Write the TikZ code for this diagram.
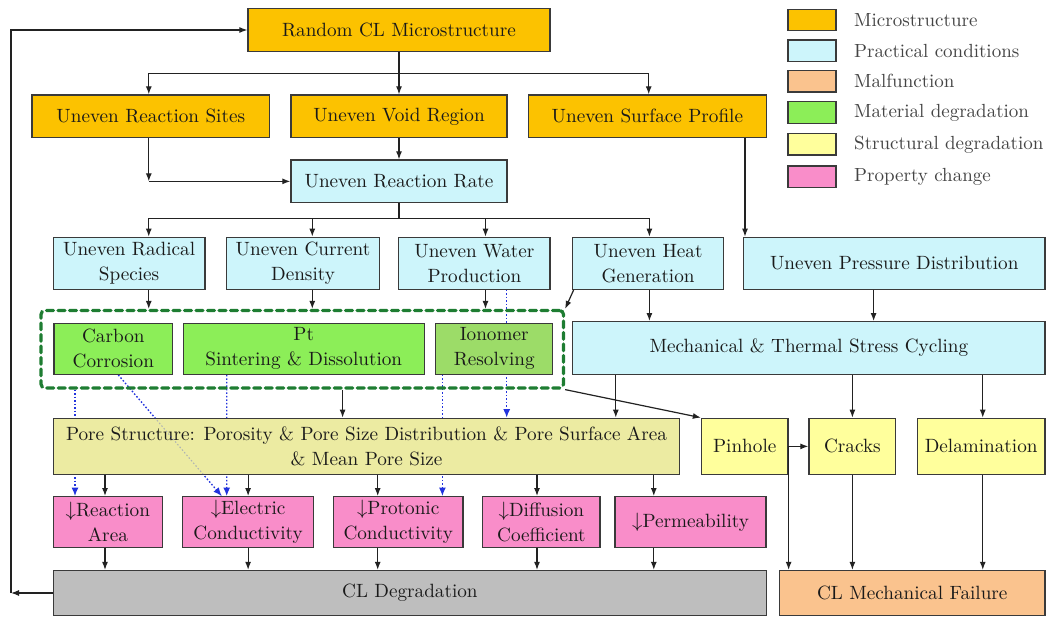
\documentclass[tikz,border=0pt]{standalone}
\usepackage{fontspec}
\setmainfont{lmroman10-regular.otf}
\usetikzlibrary{arrows.meta}
\pgfdeclarelayer{background}
\pgfsetlayers{background,main}
\definecolor{cMicro}{HTML}{FCC200}
\definecolor{cPract}{HTML}{CDF5FB}
\definecolor{cMal}{HTML}{FAC38E}
\definecolor{cMat}{HTML}{8CEE58}
\definecolor{cIono}{HTML}{9CDC68}
\definecolor{cStruct}{HTML}{FFFF9C}
\definecolor{cPore}{HTML}{ECEBA2}
\definecolor{cProp}{HTML}{F98DC9}
\definecolor{cDeg}{HTML}{BEBEBE}
\definecolor{cBorder}{HTML}{3A3A3A}
\definecolor{cText}{HTML}{1A1A1A}
\definecolor{cLegText}{HTML}{444444}
\definecolor{cLine}{HTML}{222222}
\definecolor{cBlue}{HTML}{2233DD}
\definecolor{cFrame}{HTML}{1E7D32}
\newcommand{\dn}{$\downarrow$}
\begin{document}
\begin{tikzpicture}[x=1pt,y=-1pt,
  box/.style={draw=cBorder, line width=1.3pt, inner sep=0pt, align=center, text=cText, font=\fontsize{19.2}{25}\selectfont},
  sz/.style 2 args={minimum width=#1pt, minimum height=#2pt},
  arr/.style={draw=cLine, line width=1.2pt, -{Latex[length=8pt,width=6pt]}},
  ln/.style={draw=cLine, line width=1.2pt},
  bluedot/.style={draw=cBlue, line width=1.3pt, dash pattern=on 1.5pt off 2pt, -{Latex[length=8.5pt,width=7pt]}},
  legsw/.style={draw=cBorder, line width=1.3pt, minimum width=48pt, minimum height=21.5pt, inner sep=0pt},
  legtx/.style={anchor=west, inner sep=0pt, text=cLegText, font=\fontsize{19}{25}\selectfont},
  dframe/.style={draw=cFrame, line width=3.2pt, dash pattern=on 7pt off 4.5pt, line cap=round, rounded corners=4pt, inner sep=0pt}
  ]
\useasboundingbox (0,0) rectangle (1047,617);

% Row 1
\node[box, fill=cMicro, sz={302}{43.4}] (random) at (399,30) {Random CL Microstructure};
% Row 2
\node[box, fill=cMicro, sz={237.6}{42.7}] (sites) at (150.8,116.35) {Uneven Reaction Sites};
\node[box, fill=cMicro, sz={216}{42.7}] (void) at (399,116.35) {Uneven Void Region};
\node[box, fill=cMicro, sz={238}{42.7}] (surface) at (647.4,116.35) {Uneven Surface Profile};
\node[box, fill=cPract, sz={216}{42.7}] (rate) at (399,181.35) {Uneven Reaction Rate};
% Row 3
\node[box, fill=cPract, sz={151.5}{52}] (radical) at (129.15,263.3) {Uneven Radical\\Species};
\node[box, fill=cPract, sz={153.6}{52}] (current) at (303,263.3) {Uneven Current\\Density};
\node[box, fill=cPract, sz={151.2}{52}] (water) at (474.4,263.3) {Uneven Water\\Production};
\node[box, fill=cPract, sz={150.6}{52}] (heat) at (648.1,263.3) {Uneven Heat\\Generation};
\node[box, fill=cPract, sz={301.5}{52}] (pressure) at (894.25,263.3) {Uneven Pressure Distribution};
% Row 4
\node[box, fill=cMat, sz={118.7}{51}] (carbon) at (113.35,348.8) {Carbon\\Corrosion};
\node[box, fill=cMat, sz={240.9}{51}] (pt) at (303.75,348.8) {Pt\\Sintering \& Dissolution};
\node[box, fill=cIono, sz={117}{51}] (ionomer) at (494.2,348.8) {Ionomer\\Resolving};
\node[box, fill=cPract, sz={472.2}{52.8}] (mech) at (808.9,348.1) {Mechanical \& Thermal Stress Cycling};
\node[dframe, sz={522.5}{77.5}] (frame) at (302.25,349.25) {};
% Row 5
\node[box, fill=cPore, sz={626.3}{56}] (pore) at (366.55,446.3) {Pore Structure: Porosity \& Pore Size Distribution \& Pore Surface Area\\\& Mean Pore Size};
\node[box, fill=cStruct, sz={86.5}{56.2}] (pinhole) at (744.75,446.4) {Pinhole};
\node[box, fill=cStruct, sz={86.8}{56.2}] (cracks) at (852.4,446.4) {Cracks};
\node[box, fill=cStruct, sz={127.7}{56.2}] (delam) at (981.15,446.4) {Delamination};
% Row 6
\node[box, fill=cProp, sz={108.9}{50.6}] (rarea) at (107.85,522) {\dn Reaction\\Area};
\node[box, fill=cProp, sz={130.6}{50.6}] (econd) at (248.1,522) {\dn Electric\\Conductivity};
\node[box, fill=cProp, sz={129.8}{50.6}] (pcond) at (398.2,522) {\dn Protonic\\Conductivity};
\node[box, fill=cProp, sz={117.2}{50.6}] (diff) at (541.4,522) {\dn Diffusion\\Coefficient};
\node[box, fill=cProp, sz={150.9}{50.6}] (perm) at (690.55,522) {\dn Permeability};
% Row 7
\node[box, fill=cDeg, sz={713}{45}] (deg) at (409.9,593) {CL Degradation};
\node[box, fill=cMal, sz={265.5}{45}] (failure) at (912.25,593) {CL Mechanical Failure};

% Legend
\node[legsw, fill=cMicro] (l1) at (812,20) {};
\node[legtx] (t1) at (854,20) {Microstructure};
\node[legsw, fill=cPract] (l2) at (812,50.8) {};
\node[legtx] (t2) at (854,50.8) {Practical conditions};
\node[legsw, fill=cMal] (l3) at (812,81.3) {};
\node[legtx] (t3) at (854,81.3) {Malfunction};
\node[legsw, fill=cMat] (l4) at (812,112.5) {};
\node[legtx] (t4) at (854,112.5) {Material degradation};
\node[legsw, fill=cStruct] (l5) at (812,144.3) {};
\node[legtx] (t5) at (854,144.3) {Structural degradation};
\node[legsw, fill=cProp] (l6) at (812,176.7) {};
\node[legtx] (t6) at (854,176.7) {Property change};

% Connectors
\coordinate (b1) at (399,73.3);
\draw[arr] (random.south) -- (void.north);
\draw[arr] (b1) -| ([xshift=-2pt]sites.north);
\draw[arr] (b1) -| ([xshift=1.3pt]surface.north);
\coordinate (c1) at ([xshift=-2pt]sites.south |- rate.west);
\draw[arr] ([xshift=-2pt]sites.south) -- (c1);
\draw[arr] (c1) -- (rate.west);
\draw[arr] (void.south) -- (rate.north);
\coordinate (b2) at (399,218.3);
\draw[ln] (rate.south) -- (b2);
\draw[arr] (b2) -| ([xshift=19.6pt]radical.north);
\draw[arr] (b2) -| ([xshift=9.3pt]current.north);
\draw[arr] (b2) -| ([xshift=11.1pt]water.north);
\draw[arr] (b2) -| ([xshift=1.3pt]heat.north);
\draw[arr] ([xshift=97.6pt]surface.south) -- ([xshift=97.6pt]surface.south |- pressure.north);

\draw[arr] ([xshift=19.6pt]radical.south) -- ([xshift=19.6pt]radical.south |- frame.north);
\draw[arr] ([xshift=9.3pt]current.south) -- ([xshift=9.3pt]current.south |- frame.north);
\draw[arr] ([xshift=11.1pt]water.south) -- ([xshift=11.1pt]water.south |- frame.north);
\draw[arr] ([xshift=1.5pt]heat.south west) -- (frame.north east);
\draw[arr] ([xshift=1.3pt]heat.south) -- ([xshift=1.3pt]heat.south |- mech.north);
\draw[arr] ([xshift=-20.65pt]pressure.south) -- ([xshift=-20.65pt]pressure.south |- mech.north);

\draw[arr] ([xshift=40.35pt]frame.south) -- ([xshift=40.35pt]frame.south |- pore.north);
\draw[arr] ([xshift=-193.1pt]mech.south) -- ([xshift=-193.1pt]mech.south |- pore.north);
\draw[arr] (mech.south -| cracks.north) -- (cracks.north);
\draw[arr] ([xshift=1.6pt]mech.south -| delam.north) -- ([xshift=1.6pt]delam.north);
\draw[arr] (frame.south east) -- (pinhole.north west);
\draw[arr] (pinhole.east) -- (cracks.west);
\draw[arr] (pinhole.east) -- (pinhole.east |- failure.north);
\draw[arr] (cracks.south) -- (failure.north -| cracks.south);
\draw[arr] ([xshift=1.6pt]delam.south) -- ([xshift=1.6pt]delam.south |- failure.north);

\foreach \n/\o in {rarea/-2.85, econd/0, pcond/-20.5, diff/-4.4, perm/-36.75} {
  \draw[arr] ([xshift=\o pt]\n.north |- pore.south) -- ([xshift=\o pt]\n.north);
  \draw[arr] ([xshift=\o pt]\n.south) -- ([xshift=\o pt]\n.south |- deg.north);
}

\coordinate (fb) at (11,593);
\draw[arr] (deg.west) -- (fb);
\draw[arr] (fb) |- (random.west);

\begin{pgfonlayer}{background}
\fill[white] (0,0) rectangle (1047,617);
\draw[bluedot] ([xshift=32.3pt]water.south) -- ([xshift=32.3pt]water.south |- pore.north);
\draw[bluedot] ([xshift=-32.85pt]rarea.north |- frame.south) -- ([xshift=-32.85pt]rarea.north);
\draw[bluedot] ([xshift=4.95pt]carbon.south) -- ([xshift=-26.4pt]econd.north);
\draw[bluedot] ([xshift=-77.05pt]pt.south) -- ([xshift=-21.4pt]econd.north);
\draw[bluedot] ([xshift=-51.8pt]ionomer.south) -- ([xshift=44.2pt]pcond.north);
\end{pgfonlayer}
\draw[draw=cBlue, line width=1.1pt, dash pattern=on 1.5pt off 2pt, opacity=0.3] ([xshift=4.95pt]carbon.south) -- ([xshift=-26.4pt]econd.north);
\end{tikzpicture}
\end{document}
